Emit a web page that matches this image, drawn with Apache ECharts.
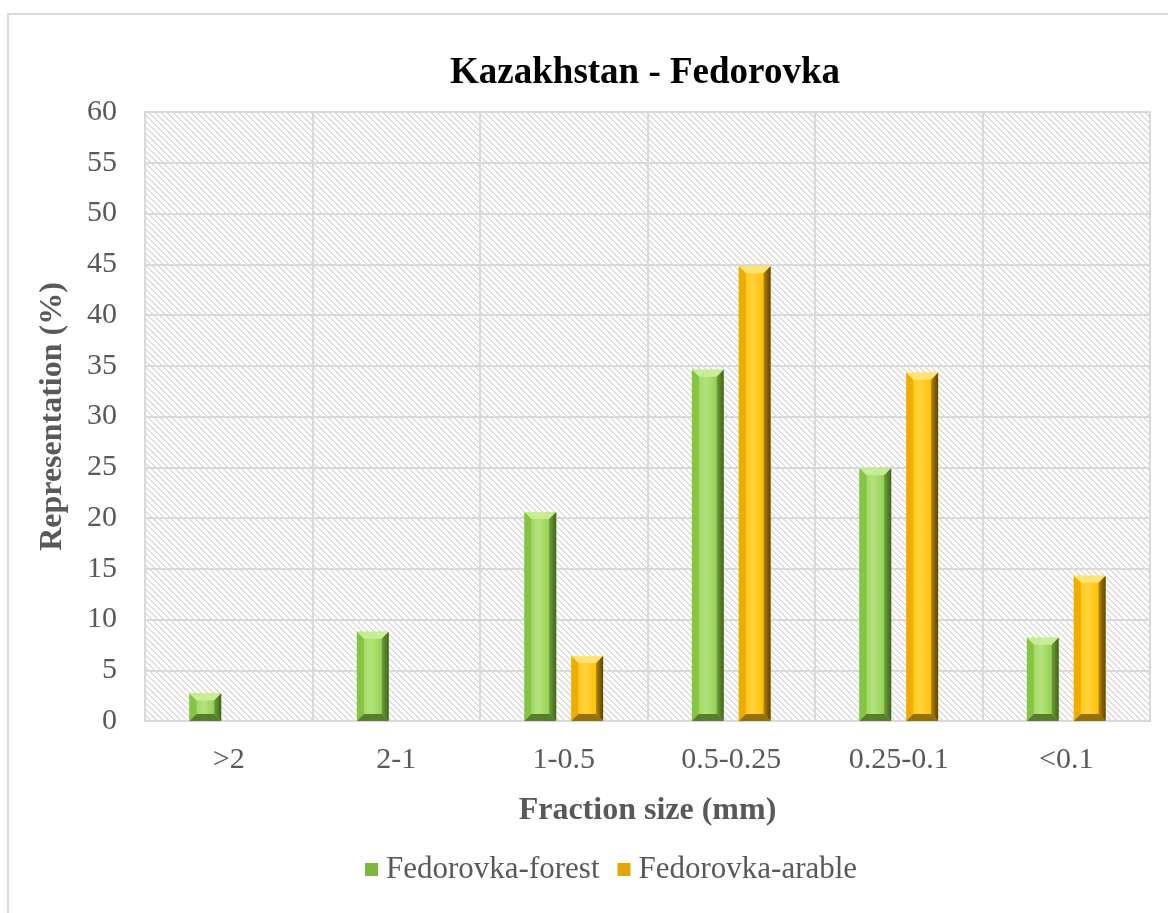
<!DOCTYPE html>
<html>
<head>
<meta charset="utf-8">
<style>
  html, body { margin: 0; padding: 0; background: #fff; }
  #chart { width: 1168px; height: 913px; }
</style>
<script src="https://cdn.jsdelivr.net/npm/echarts@6/dist/echarts.min.js"></script>
</head>
<body>
<div id="chart"></div>
<script>
// Grain-size fractions and the share of each fraction (%)
const categories = ['>2', '2-1', '1-0.5', '0.5-0.25', '0.25-0.1', '<0.1'];
const forestValues = [2.7, 8.8, 20.6, 34.6, 24.9, 8.2];
const arableValues = [null, null, 6.4, 44.8, 34.3, 14.3];
const seriesNames = ['Fedorovka-forest', 'Fedorovka-arable'];
const yTicks = { min: 0, max: 60, interval: 5 };

const FONT = '"Liberation Serif", "Times New Roman", serif';

// Bevelled-bar palettes: face, top, left, right, bottom
const palettes = [
  { face: '#92d050', light: '#b4e27c', top: '#c8ec98', left: '#86c544', right: '#3f6519', rightMid: '#6f9f3a', bottom: '#557f29' },
  { face: '#ffc000', light: '#ffd23e', top: '#ffe27a', left: '#eeae00', right: '#5e4400', rightMid: '#b08500', bottom: '#977100' }
];

// Diagonal hatch used as the plot-area background
function hatchPattern() {
  const c = document.createElement('canvas');
  const n = 6;
  c.width = n; c.height = n;
  const ctx = c.getContext('2d');
  ctx.fillStyle = '#ffffff';
  ctx.fillRect(0, 0, n, n);
  ctx.fillStyle = '#dcdcdc';
  for (let y = 0; y < n; y++) {
    for (let x = 0; x < n; x++) {
      const d = ((x - y) % n + n) % n;
      if (d === 0 || d === 1) ctx.fillRect(x, y, 1, 1);
    }
  }
  return { image: c, repeat: 'repeat' };
}

function bevelBar(seriesIdx) {
  const pal = palettes[seriesIdx];
  return function (params, api) {
    const v = api.value(1);
    if (v == null || isNaN(v)) return null;
    const cat = api.value(0);
    const topPt = api.coord([cat, v]);
    const basePt = api.coord([cat, 0]);
    const band = api.size([1, 0])[0];
    const bw = band * 0.19;
    const off = band * 0.14 * (seriesIdx === 0 ? -1 : 1);
    const x0 = topPt[0] + off - bw / 2, x1 = x0 + bw;
    const y0 = topPt[1], y1 = basePt[1];
    const b = Math.min(7, (y1 - y0) / 2);
    const poly = (pts, fill) => ({ type: 'polygon', shape: { points: pts }, style: { fill: fill }, silent: true });
    return {
      type: 'group',
      children: [
        {
          type: 'rect',
          shape: { x: x0, y: y0, width: bw, height: y1 - y0 },
          style: {
            fill: new echarts.graphic.LinearGradient(0, 0, 1, 0, [
              { offset: 0, color: pal.face },
              { offset: 0.45, color: pal.light },
              { offset: 0.8, color: pal.face },
              { offset: 1, color: pal.face }
            ])
          }
        },
        poly([[x0, y0], [x1, y0], [x1 - b, y0 + b], [x0 + b, y0 + b]], pal.top),
        poly([[x0, y0], [x0 + b, y0 + b], [x0 + b, y1 - b], [x0, y1]], pal.left),
        {
          type: 'polygon',
          shape: { points: [[x1, y0], [x1, y1], [x1 - b, y1 - b], [x1 - b, y0 + b]] },
          style: {
            fill: new echarts.graphic.LinearGradient(0, 0, 1, 0, [
              { offset: 0, color: pal.rightMid },
              { offset: 1, color: pal.right }
            ])
          }
        },
        poly([[x0, y1], [x1, y1], [x1 - b, y1 - b], [x0 + b, y1 - b]], pal.bottom)
      ]
    };
  };
}

function toData(values) {
  return values.map((v, i) => [i, v]).filter(d => d[1] != null);
}

const chart = echarts.init(document.getElementById('chart'), null, { renderer: 'canvas' });

chart.setOption({
  backgroundColor: '#ffffff',
  animation: false,
  title: {
    text: 'Kazakhstan - Fedorovka',
    left: 640,
    top: 50,
    textAlign: 'center',
    textStyle: { fontFamily: FONT, fontWeight: 'bold', fontSize: 37, color: '#000000' }
  },
  graphic: [{
    type: 'rect',
    shape: { x: 8, y: 14, width: 1300, height: 1000 },
    style: { fill: 'none', stroke: '#d9d9d9', lineWidth: 2 },
    silent: true,
    z: -10
  }],
  legend: {
    left: 360,
    top: 849,
    itemWidth: 13,
    itemHeight: 13,
    itemGap: 18,
    icon: 'rect',
    data: seriesNames,
    textStyle: { fontFamily: FONT, fontSize: 31, color: '#595959', padding: [0, 0, 0, 3] }
  },
  grid: {
    left: 145,
    right: 18,
    top: 112,
    bottom: 192,
    show: true,
    backgroundColor: hatchPattern(),
    borderColor: '#d9d9d9',
    borderWidth: 2
  },
  xAxis: {
    type: 'category',
    data: categories,
    boundaryGap: true,
    name: 'Fraction size (mm)',
    nameLocation: 'middle',
    nameGap: 74,
    nameTextStyle: { fontFamily: FONT, fontWeight: 'bold', fontSize: 32, color: '#595959' },
    axisLine: { show: true, lineStyle: { color: '#d9d9d9', width: 2 } },
    axisTick: { show: false },
    axisLabel: { fontFamily: FONT, fontSize: 30, color: '#595959', margin: 24 },
    splitLine: { show: true, lineStyle: { color: '#d9d9d9', width: 2 } }
  },
  yAxis: {
    type: 'value',
    min: yTicks.min,
    max: yTicks.max,
    interval: yTicks.interval,
    name: 'Representation (%)',
    nameLocation: 'middle',
    nameGap: 76,
    nameTextStyle: { fontFamily: FONT, fontWeight: 'bold', fontSize: 32, color: '#595959' },
    axisLine: { show: false },
    axisTick: { show: false },
    axisLabel: { fontFamily: FONT, fontSize: 30, color: '#595959', margin: 28 },
    splitLine: { show: true, lineStyle: { color: '#d9d9d9', width: 2 } }
  },
  series: [
    {
      name: seriesNames[0],
      type: 'custom',
      renderItem: bevelBar(0),
      encode: { x: 0, y: 1 },
      itemStyle: { color: '#7cb83e' },
      data: toData(forestValues)
    },
    {
      name: seriesNames[1],
      type: 'custom',
      renderItem: bevelBar(1),
      encode: { x: 0, y: 1 },
      itemStyle: { color: '#e0a800' },
      data: toData(arableValues)
    }
  ]
});
</script>
</body>
</html>
